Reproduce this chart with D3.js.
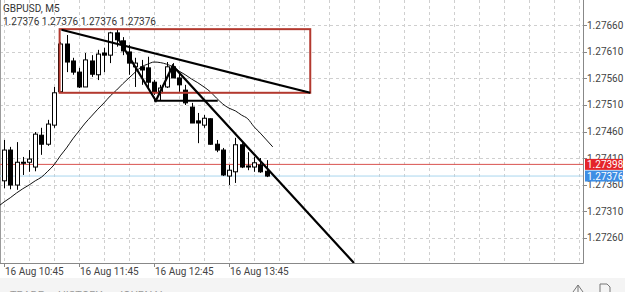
<!DOCTYPE html>
<html>
<head>
<meta charset="utf-8">
<script src="https://d3js.org/d3.v7.min.js"></script>
<style>
  body { margin: 0; background: #fff; }
  text { font-family: Roboto, "Noto Sans", sans-serif; }
</style>
</head>
<body>
<svg width="625" height="292"></svg>
<script>
// GBPUSD M5 bars, index 0 = 16 Aug 10:45
var opens  = [1.27367,1.27425,1.27359,1.27402,1.27402,1.27393,1.27453,1.27436,1.27472,1.27535,
              1.27625,1.27593,1.27572,1.27544,1.27593,1.27567,1.27608,1.27604,1.27646,1.27631,
              1.27610,1.27582,1.27582,1.27580,1.27553,1.27533,1.27544,1.27582,1.27561,1.27538,
              1.27506,1.27480,1.27472,1.27484,1.27436,1.27425,1.27376,1.27384,1.27435,1.27395,
              1.27393,1.27397,1.27385];
var highs  = [1.27444,1.27431,1.27440,1.27412,1.27425,1.27459,1.27467,1.27482,1.27544,1.27629,
              1.27642,1.27599,1.27580,1.27608,1.27604,1.27614,1.27618,1.27648,1.27652,1.27638,
              1.27623,1.27599,1.27595,1.27601,1.27557,1.27548,1.27591,1.27589,1.27570,1.27548,
              1.27514,1.27495,1.27491,1.27485,1.27444,1.27429,1.27397,1.27448,1.27438,1.27421,
              1.27412,1.27410,1.27406];
var lows   = [1.27353,1.27351,1.27350,1.27378,1.27384,1.27385,1.27416,1.27433,1.27467,1.27535,
              1.27572,1.27567,1.27542,1.27544,1.27563,1.27557,1.27572,1.27589,1.27620,1.27604,
              1.27567,1.27544,1.27548,1.27542,1.27529,1.27519,1.27542,1.27561,1.27535,1.27510,
              1.27476,1.27438,1.27467,1.27435,1.27421,1.27376,1.27359,1.27363,1.27391,1.27387,
              1.27384,1.27382,1.27374];
var closes = [1.27425,1.27359,1.27402,1.27401,1.27408,1.27455,1.27436,1.27474,1.27533,1.27625,
              1.27591,1.27572,1.27544,1.27595,1.27568,1.27606,1.27604,1.27646,1.27633,1.27612,
              1.27589,1.27589,1.27576,1.27553,1.27535,1.27542,1.27582,1.27561,1.27548,1.27514,
              1.27476,1.27476,1.27485,1.27436,1.27425,1.27378,1.27387,1.27435,1.27393,1.27393,
              1.27401,1.27384,1.27376];

// moving average, starting at bar index -1
var maStart = -1;
var maValues = [1.27318,1.27327,1.27335,1.27344,1.27352,1.27359,1.27367,1.27374,1.27385,1.27397,
                1.27414,1.27429,1.27446,1.27461,1.27476,1.27489,1.27502,1.27514,1.27527,1.27538,
                1.27550,1.27561,1.27572,1.27582,1.27587,1.27591,1.27590,1.27587,1.27582,1.27574,
                1.27567,1.27559,1.27552,1.27544,1.27535,1.27523,1.27512,1.27504,1.27499,1.27491,
                1.27484,1.27469,1.27457,1.27444,1.27431];

// drawn objects (bar index, price)
var boxCorners = [[8.9, 1.27653], [49, 1.27533]];
var trendLine = [[9.2, 1.27652], [49, 1.27533]];
var zigzag = [[17.9, 1.27642], [24.3, 1.27518], [27, 1.27584], [56, 1.27212]];
var hLine = [[24, 1.27518], [34.2, 1.27518]];

var priceTicks = [1.27260,1.27310,1.27360,1.27410,1.27460,1.27510,1.27560,1.27610,1.27660];
var timeTickBars = [0, 12, 24, 36];
var timeTickLabels = ["16 Aug 10:45","16 Aug 11:45","16 Aug 12:45","16 Aug 13:45"];
var bidPrice = 1.27398, askPrice = 1.27376;
var title = "GBPUSD, M5";
var ohlcText = "1.27376 1.27376 1.27376 1.27376";
var tabs = ["TRADE", "HISTORY", "JOURNAL"];

var svg = d3.select("svg"),
  plotW = 583,
  plotH = 263;

var x = d3.scaleLinear().domain([-0.64, 92.64]).range([0, plotW]);
var y = d3.scaleLinear().domain([1.27212, 1.27708]).range([plotH, 0]);

svg.append("defs").append("clipPath").attr("id", "plot")
  .append("rect").attr("width", plotW).attr("height", plotH);

// bottom panel
svg.append("rect").attr("x", 0).attr("y", 278).attr("width", 625).attr("height", 14).attr("fill", "#f4f4f4");
svg.selectAll(".tab").data(tabs).enter().append("text")
  .attr("x", function(d, i) { return [10, 58, 117][i]; })
  .attr("y", 299)
  .attr("font-size", 11)
  .attr("fill", "#9a9a9a")
  .text(function(d) { return d; });

// grid
var grid = svg.append("g");
grid.selectAll(".vg").data(d3.range(0, 93, 4)).enter().append("line")
  .attr("x1", function(d) { return Math.round(x(d)) + 0.5; })
  .attr("x2", function(d) { return Math.round(x(d)) + 0.5; })
  .attr("y1", 0).attr("y2", plotH)
  .attr("stroke", "#cfcfcf").attr("stroke-dasharray", "3,3");
grid.selectAll(".hg").data(priceTicks).enter().append("line")
  .attr("x1", 0).attr("x2", plotW)
  .attr("y1", function(d) { return Math.round(y(d)) + 0.5; })
  .attr("y2", function(d) { return Math.round(y(d)) + 0.5; })
  .attr("stroke", "#cfcfcf").attr("stroke-dasharray", "3,3");

// left border
svg.append("line").attr("x1", 0.5).attr("x2", 0.5).attr("y1", 0).attr("y2", plotH).attr("stroke", "#9a9a9a");

// bid / ask lines
svg.append("line").attr("x1", 0).attr("x2", plotW)
  .attr("y1", y(bidPrice)).attr("y2", y(bidPrice))
  .attr("stroke", "#d9534f").attr("stroke-width", 1);
svg.append("line").attr("x1", 0).attr("x2", plotW)
  .attr("y1", y(askPrice)).attr("y2", y(askPrice))
  .attr("stroke", "#a9d6ee").attr("stroke-width", 1);

var plot = svg.append("g").attr("clip-path", "url(#plot)");

// moving average
var ma = plot.append("path")
  .datum(maValues)
  .attr("d", d3.line()
    .x(function(d, i) { return x(i + maStart); })
    .y(function(d) { return y(d); })
    .curve(d3.curveMonotoneX))
  .attr("fill", "none")
  .attr("stroke", "#111")
  .attr("stroke-width", 1);

// candles
var bars = d3.range(opens.length);
plot.selectAll(".wick").data(bars).enter().append("line")
  .attr("x1", function(i) { return Math.round(x(i)) + 0.5; })
  .attr("x2", function(i) { return Math.round(x(i)) + 0.5; })
  .attr("y1", function(i) { return y(highs[i]); })
  .attr("y2", function(i) { return y(lows[i]); })
  .attr("stroke", "#000");
plot.selectAll(".body").data(bars).enter().append("rect")
  .attr("x", function(i) { return Math.round(x(i)) - 1.5; })
  .attr("width", 4)
  .attr("y", function(i) { return y(Math.max(opens[i], closes[i])); })
  .attr("height", function(i) { return Math.max(1, Math.abs(y(opens[i]) - y(closes[i]))); })
  .attr("fill", function(i) { return closes[i] >= opens[i] ? "#fff" : "#000"; })
  .attr("stroke", "#000")
  .attr("stroke-width", 1);

// objects
plot.append("rect")
  .attr("x", x(boxCorners[0][0]))
  .attr("y", y(boxCorners[0][1]))
  .attr("width", x(boxCorners[1][0]) - x(boxCorners[0][0]))
  .attr("height", y(boxCorners[1][1]) - y(boxCorners[0][1]))
  .attr("fill", "none")
  .attr("stroke", "#b3392f")
  .attr("stroke-width", 2);

var objLine = d3.line().x(function(d) { return x(d[0]); }).y(function(d) { return y(d[1]); });
[trendLine, zigzag, hLine].forEach(function(pts) {
  plot.append("path").attr("d", objLine(pts))
    .attr("fill", "none").attr("stroke", "#000").attr("stroke-width", 2.2);
});

// axes lines
svg.append("line").attr("x1", plotW + 0.5).attr("x2", plotW + 0.5).attr("y1", 0).attr("y2", plotH + 0.5)
  .attr("stroke", "#888");
svg.append("line").attr("x1", 0).attr("x2", plotW + 0.5).attr("y1", plotH + 0.5).attr("y2", plotH + 0.5)
  .attr("stroke", "#888");

// price axis
svg.selectAll(".ptick").data(priceTicks).enter().append("line")
  .attr("x1", plotW).attr("x2", plotW + 4)
  .attr("y1", function(d) { return Math.round(y(d)) + 0.5; })
  .attr("y2", function(d) { return Math.round(y(d)) + 0.5; })
  .attr("stroke", "#888");
svg.selectAll(".plab").data(priceTicks).enter().append("text")
  .attr("x", plotW + 4)
  .attr("y", function(d) { return y(d) + 3.5; })
  .attr("font-size", 10)
  .attr("fill", "#444")
  .text(function(d) { return d.toFixed(5); });

// time axis
svg.selectAll(".ttick").data(timeTickBars).enter().append("line")
  .attr("x1", function(d) { return Math.round(x(d)) + 0.5; })
  .attr("x2", function(d) { return Math.round(x(d)) + 0.5; })
  .attr("y1", plotH).attr("y2", plotH + 4)
  .attr("stroke", "#888");
svg.selectAll(".tlab").data(timeTickBars).enter().append("text")
  .attr("x", function(d) { return x(d) + 1; })
  .attr("y", 275)
  .attr("font-size", 10)
  .attr("fill", "#444")
  .text(function(d, i) { return timeTickLabels[i]; });

// price labels
[[bidPrice, "#e4252a"], [askPrice, "#3d8ee4"]].forEach(function(p) {
  svg.append("rect").attr("x", plotW + 2).attr("y", y(p[0]) - 5.5)
    .attr("width", 38).attr("height", 11).attr("fill", p[1]);
  svg.append("text").attr("x", plotW + 4).attr("y", y(p[0]) + 3.5)
    .attr("font-size", 10).attr("fill", "#fff").text(p[0].toFixed(5));
});

// header
svg.append("text").attr("x", 3).attr("y", 12).attr("font-size", 10).attr("fill", "#333").text(title);
svg.append("text").attr("x", 3).attr("y", 25).attr("font-size", 10).attr("fill", "#333").text(ohlcText);

// bottom-right icons
svg.append("path").attr("d", "M573,292 L578,285 L583,292 M578,285 L578,292").attr("fill", "none").attr("stroke", "#777");
svg.append("path").attr("d", "M600,292 L600,284 L607,284 L610,287 L610,292").attr("fill", "none").attr("stroke", "#777");
</script>
</body>
</html>
